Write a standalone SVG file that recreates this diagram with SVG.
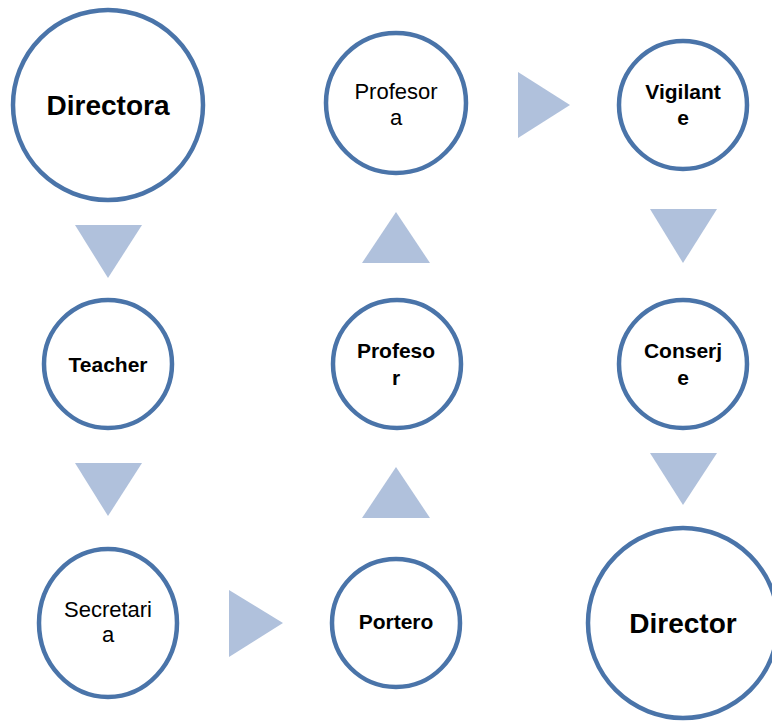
<svg xmlns="http://www.w3.org/2000/svg" width="772" height="721" viewBox="0 0 772 721">
<style>
.node{fill:#ffffff;stroke:#4a74a9;stroke-width:4.5}
.arr{fill:#b0c1dc}
text{font-family:"Liberation Sans",Arial,sans-serif;fill:#000;text-anchor:middle}
.b{font-weight:bold;font-size:21px}
.r{font-size:22px}
.big{font-weight:bold;font-size:28px}
</style>
<rect width="772" height="721" fill="#ffffff"/>
<g id="connectors">
<polygon class="arr" points="75,225 142,225 108,278"/>
<polygon class="arr" points="75,463 142,463 108,516"/>
<polygon class="arr" points="229,590 229,657 283,623"/>
<polygon class="arr" points="362,518 430,518 396,467"/>
<polygon class="arr" points="362,263 430,263 396,212"/>
<polygon class="arr" points="518,72 518,138 570,105"/>
<polygon class="arr" points="650,209 717,209 683,263"/>
<polygon class="arr" points="650,453 717,453 683,505"/>
</g>
<g id="directora">
<circle class="node" cx="108" cy="105" r="95"/>
<text class="big" x="108" y="115">Directora</text>
</g>
<g id="teacher">
<circle class="node" cx="108" cy="364" r="64"/>
<text class="b" x="108" y="372">Teacher</text>
</g>
<g id="secretaria">
<ellipse class="node" cx="108" cy="623" rx="69" ry="74"/>
<text class="r" x="108" y="617">Secretari</text>
<text class="r" x="108" y="642">a</text>
</g>
<g id="portero">
<circle class="node" cx="396" cy="623" r="64"/>
<text class="b" x="396" y="629">Portero</text>
</g>
<g id="profesor">
<circle class="node" cx="397" cy="364" r="64"/>
<text class="b" x="396" y="358">Profeso</text>
<text class="b" x="396" y="385">r</text>
</g>
<g id="profesora">
<circle class="node" cx="396" cy="103" r="70"/>
<text class="r" x="396" y="99">Profesor</text>
<text class="r" x="396" y="125">a</text>
</g>
<g id="vigilante">
<circle class="node" cx="683" cy="105" r="64"/>
<text class="b" x="683" y="99">Vigilant</text>
<text class="b" x="683" y="125">e</text>
</g>
<g id="conserje">
<circle class="node" cx="683" cy="364" r="64"/>
<text class="b" x="683" y="358">Conserj</text>
<text class="b" x="683" y="385">e</text>
</g>
<g id="director">
<circle class="node" cx="683" cy="623" r="95"/>
<text class="big" x="683" y="633">Director</text>
</g>
</svg>
